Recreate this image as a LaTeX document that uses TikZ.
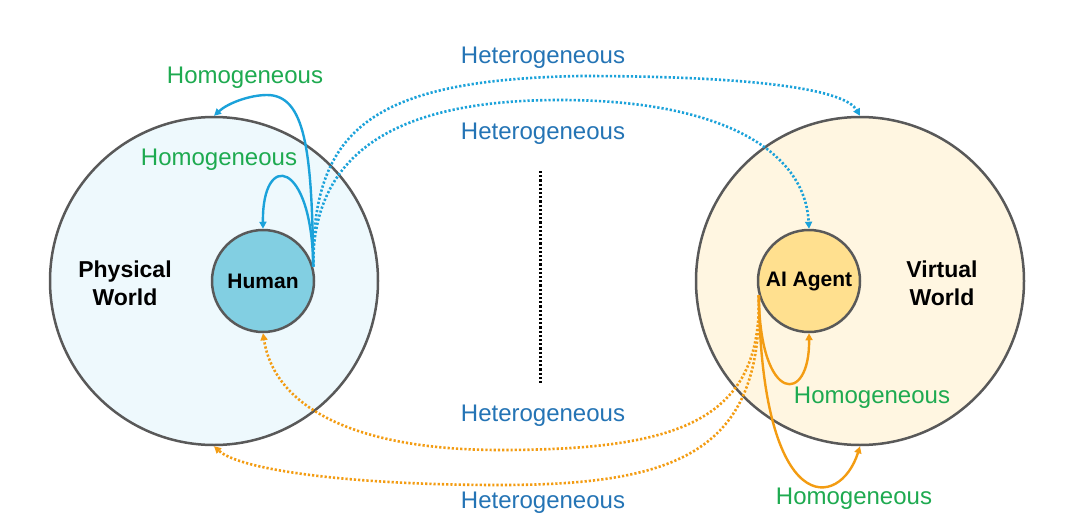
\documentclass[tikz,border=0pt]{standalone}
\usepackage{fontspec}
\setmainfont{Liberation Sans}
\usetikzlibrary{arrows.meta}
\definecolor{ringgray}{HTML}{595959}
\definecolor{physfill}{HTML}{EEF9FD}
\definecolor{humanfill}{HTML}{82CFE2}
\definecolor{virtfill}{HTML}{FFF6E1}
\definecolor{agentfill}{HTML}{FFE08F}
\definecolor{arrowblue}{HTML}{1BA2DA}
\definecolor{arroworange}{HTML}{F39C12}
\definecolor{labelgreen}{HTML}{1EAA50}
\definecolor{labelblue}{HTML}{2474B5}
\tikzset{
  world/.style={circle, draw=ringgray, line width=2.5pt, minimum size=328pt, inner sep=0pt},
  actor/.style={circle, draw=ringgray, line width=2.5pt, minimum size=102pt, inner sep=0pt,
    font=\fontsize{21}{25}\selectfont\bfseries},
  worldname/.style={align=center, font=\fontsize{23}{28}\selectfont\bfseries},
  homolabel/.style={text=labelgreen, font=\fontsize{24}{28}\selectfont, inner sep=0pt},
  heterolabel/.style={text=labelblue, font=\fontsize{24}{28}\selectfont, inner sep=0pt},
  tipstyle/.style={-{Triangle[length=7pt,width=7pt]}},
  solidblue/.style={tipstyle, draw=arrowblue, line width=2.4pt},
  dotblue/.style={tipstyle, draw=arrowblue, line width=2.6pt, dash pattern=on 2.2pt off 2pt},
  solidorange/.style={tipstyle, draw=arroworange, line width=2.4pt},
  dotorange/.style={tipstyle, draw=arroworange, line width=2.6pt, dash pattern=on 2.2pt off 2pt},
  divider/.style={draw=black, line width=3pt, dash pattern=on 2.2pt off 2pt}
}
\begin{document}
\begin{tikzpicture}[x=1pt, y=-1pt]
\useasboundingbox (0,0) rectangle (1080,517);
\fill[white] (0,0) rectangle (1080,517);

% worlds
\node[world, fill=physfill] (phys) at (214,281) {};
\node[world, fill=virtfill] (virt) at (860,281) {};
\node[worldname] (physname) at (125,283) {Physical\\World};
\node[worldname] (virtname) at (942,283) {Virtual\\World};

% divider
\coordinate (divtop) at (540,171);
\coordinate (divbot) at (540,383);
\draw[divider] (divtop) -- (divbot);

% actors
\node[actor, fill=humanfill] (human) at (263,281) {Human};
\node[actor, fill=agentfill] (agent) at (809,281) {AI Agent};

% blue arrows from human
\draw[solidblue] (human.16) .. controls (312,150) and (305,95) .. (267,95)
   .. controls (250,95) and (228,103) .. (phys.north);
\draw[solidblue] (human.16) .. controls (312,160) and (262,150) .. (human.north);
\draw[dotblue] (human.16) .. controls (312,130) and (370,80) .. (580,76)
   .. controls (760,76) and (845,90) .. (virt.north);
\draw[dotblue] (human.16) .. controls (312,150) and (400,100) .. (560,100)
   .. controls (720,100) and (805,150) .. (agent.north);

% orange arrows from agent
\draw[solidorange] (agent.196) .. controls (760,405) and (810,405) .. (agent.south);
\draw[solidorange] (agent.196) .. controls (762,520) and (840,510) .. (virt.south);
\draw[dotorange] (agent.196) .. controls (762,420) and (680,450) .. (500,450)
   .. controls (360,450) and (275,410) .. (human.south);
\draw[dotorange] (agent.196) .. controls (763,450) and (680,485) .. (500,485)
   .. controls (350,485) and (240,470) .. (phys.south);

% labels
\node[homolabel] (h1) at (245,78) {Homogeneous};
\node[homolabel] (h2) at (219,160) {Homogeneous};
\node[heterolabel] (e1) at (543,58) {Heterogeneous};
\node[heterolabel] (e2) at (543,134) {Heterogeneous};
\node[heterolabel] (e3) at (543,416) {Heterogeneous};
\node[heterolabel] (e4) at (543,503) {Heterogeneous};
\node[homolabel] (h3) at (872,398) {Homogeneous};
\node[homolabel] (h4) at (854,499) {Homogeneous};
\end{tikzpicture}
\end{document}
